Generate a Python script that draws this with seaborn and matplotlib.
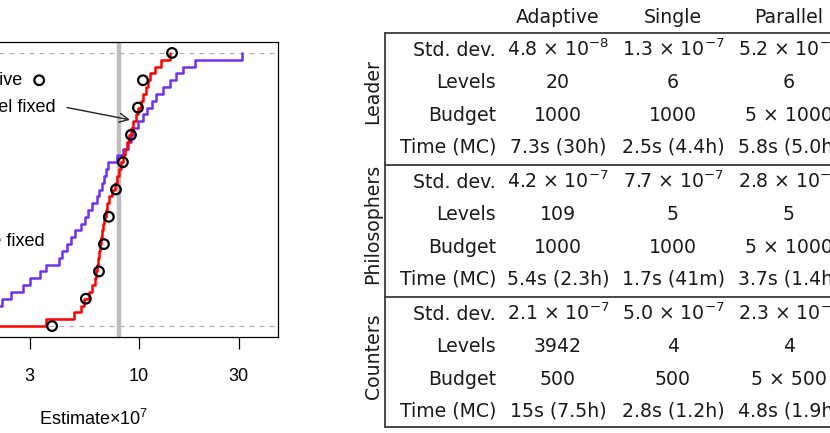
import matplotlib
matplotlib.use("Agg")
import matplotlib.pyplot as plt
import seaborn as sns

# ---- data (estimate x 1e7) ----
single_fixed = [1.3, 1.6, 1.9, 2.2, 2.45, 2.79, 3.0, 3.35, 3.6, 4.15,
                4.3, 4.55, 4.72, 4.95, 5.3, 5.52, 5.72, 5.95, 6.3, 6.45,
                6.65, 6.82, 6.95, 7.08, 7.85, 8.35, 8.85, 9.15, 9.4, 9.95,
                10.4, 10.9, 11.6, 12.1, 13.0, 14.1, 15.1, 16.3, 18.6, 31.0]
parallel_fixed = [3.6, 4.9, 5.27, 5.45, 5.78, 5.96, 6.13, 6.23, 6.32, 6.40,
                  6.47, 6.53, 6.59, 6.65, 6.74, 6.84, 6.94, 7.03, 7.15, 7.4,
                  7.64, 7.85, 8.03, 8.22, 8.4, 8.57, 8.74, 8.94, 9.15, 9.37,
                  9.63, 9.89, 10.2, 10.5, 10.8, 11.0, 11.3, 11.9, 12.8, 14.1]
adaptive_est = [3.84, 5.57, 6.44, 6.80, 7.18, 7.76, 8.38, 9.16, 9.89, 10.45, 14.4]
adaptive_prob = [0.0, 0.1, 0.2, 0.3, 0.4, 0.5, 0.6, 0.7, 0.8, 0.9, 1.0]
true_value = 8.07
x_ticks = [3, 10, 30]

# ---- table contents ----
columns = ["Adaptive", "Single", "Parallel"]
row_labels = ["Std. dev.", "Levels", "Budget", "Time (MC)"]
groups = ["Leader", "Philosophers", "Counters"]
leader = [["4.8 × 10$^{-8}$", "1.3 × 10$^{-7}$", "5.2 × 10$^{-8}$"],
          ["20", "6", "6"],
          ["1000", "1000", "5 × 1000"],
          ["7.3s (30h)", "2.5s (4.4h)", "5.8s (5.0h)"]]
philosophers = [["4.2 × 10$^{-7}$", "7.7 × 10$^{-7}$", "2.8 × 10$^{-7}$"],
                ["109", "5", "5"],
                ["1000", "1000", "5 × 1000"],
                ["5.4s (2.3h)", "1.7s (41m)", "3.7s (1.4h)"]]
counters = [["2.1 × 10$^{-7}$", "5.0 × 10$^{-7}$", "2.3 × 10$^{-7}$"],
            ["3942", "4", "4"],
            ["500", "500", "5 × 500"],
            ["15s (7.5h)", "2.8s (1.2h)", "4.8s (1.9h)"]]
blocks = [leader, philosophers, counters]

sns.set_style("ticks")
plt.rcParams["font.family"] = ["Liberation Sans", "DejaVu Sans"]
plt.rcParams["mathtext.fontset"] = "custom"
plt.rcParams["mathtext.rm"] = "Liberation Sans"
plt.rcParams["mathtext.it"] = "Liberation Sans:italic"
plt.rcParams["text.color"] = "black"
plt.rcParams["axes.labelcolor"] = "black"
plt.rcParams["xtick.color"] = "black"
plt.rcParams["xtick.labelcolor"] = "black"

W, H = 830, 433
fig = plt.figure(figsize=(W / 100, H / 100), dpi=100)

# left panel: ECDFs (part of it sits outside the canvas, as in the reference)
ax = fig.add_axes([-90 / W, (H - 337) / H, 368 / W, 295 / H])
ax.set_xscale("log")
ax.axhline(0, color="#b0b0b0", ls=(0, (4, 4)), lw=0.9, zorder=1)
ax.axhline(1, color="#b0b0b0", ls=(0, (4, 4)), lw=0.9, zorder=1)
ax.axvline(true_value, color="#bdbdbd", lw=3.2, zorder=1)

sns.ecdfplot(x=single_fixed, ax=ax, color="#7030f0", lw=1.8, zorder=3)
sns.ecdfplot(x=parallel_fixed, ax=ax, color="#ff0000", lw=1.8, zorder=4)
ax.scatter(adaptive_est, adaptive_prob, s=48, facecolors="none",
           edgecolors="black", linewidths=1.6, zorder=5)

ax.set_xlim(0.802, 46.3)
ax.set_ylim(-0.04, 1.04)
ax.set_xticks(x_ticks)
ax.set_xticklabels([str(t) for t in x_ticks])
ax.minorticks_off()
ax.set_yticks([])
ax.set_ylabel("")
ax.tick_params(axis="x", length=8.5, width=0.9, pad=14, labelsize=13, color="black")
ax.set_xlabel(r"Estimate$\times10^7$", fontsize=13, labelpad=17)
for s in ax.spines.values():
    s.set_visible(True)
    s.set_color("black")
    s.set_linewidth(0.9)

# in-plot labels
ax.text(2.79, 0.90, "Adaptive", ha="right", va="center", fontsize=13)
ax.scatter([3.33], [0.90], s=48, facecolors="none", edgecolors="black", linewidths=1.6)
ax.text(4.01, 0.80, "Parallel fixed", ha="right", va="center", fontsize=13)
ax.annotate("", xy=(9.06, 0.755), xytext=(4.53, 0.80),
            arrowprops=dict(arrowstyle="->", color="#222222", lw=1.0,
                            mutation_scale=16, shrinkA=0, shrinkB=0))
ax.text(3.55, 0.31, "Single fixed", ha="right", va="center", fontsize=13)

# right panel: table
tax = fig.add_axes([0, 0, 1, 1])
tax.set_xlim(0, W)
tax.set_ylim(H, 0)
tax.axis("off")

tfont = dict(family="DejaVu Sans", fontsize=13.6, color="#1a1a1a",
             math_fontfamily="dejavusans")
col_x = [558, 673, 789]
label_x = 496
table_left = 385
block_top = 33
block_h = 132
row_h = 32.3

for x, name in zip(col_x, columns):
    tax.text(x, block_top - 10, name, ha="center", va="baseline", **tfont)

line_kw = dict(color="#3a3a3a", lw=1.3)
tax.plot([table_left, W + 10], [block_top, block_top], **line_kw)
tax.plot([table_left, table_left], [block_top, block_top + 3 * block_h - 2], **line_kw)
for g, (gname, rows) in enumerate(zip(groups, blocks)):
    top = block_top + g * block_h
    bottom = top + block_h - (2 if g == 2 else 0)
    tax.plot([table_left, W + 10], [bottom, bottom], **line_kw)
    tax.text(373, top + 59, gname, rotation=90, ha="center", va="center", **tfont)
    for r, (rl, vals) in enumerate(zip(row_labels, rows)):
        yb = top + 23 + r * row_h
        tax.text(label_x, yb, rl, ha="right", va="baseline", **tfont)
        for x, v in zip(col_x, vals):
            tax.text(x, yb, v, ha="center", va="baseline", **tfont)

fig.savefig("out.png", dpi=100)
